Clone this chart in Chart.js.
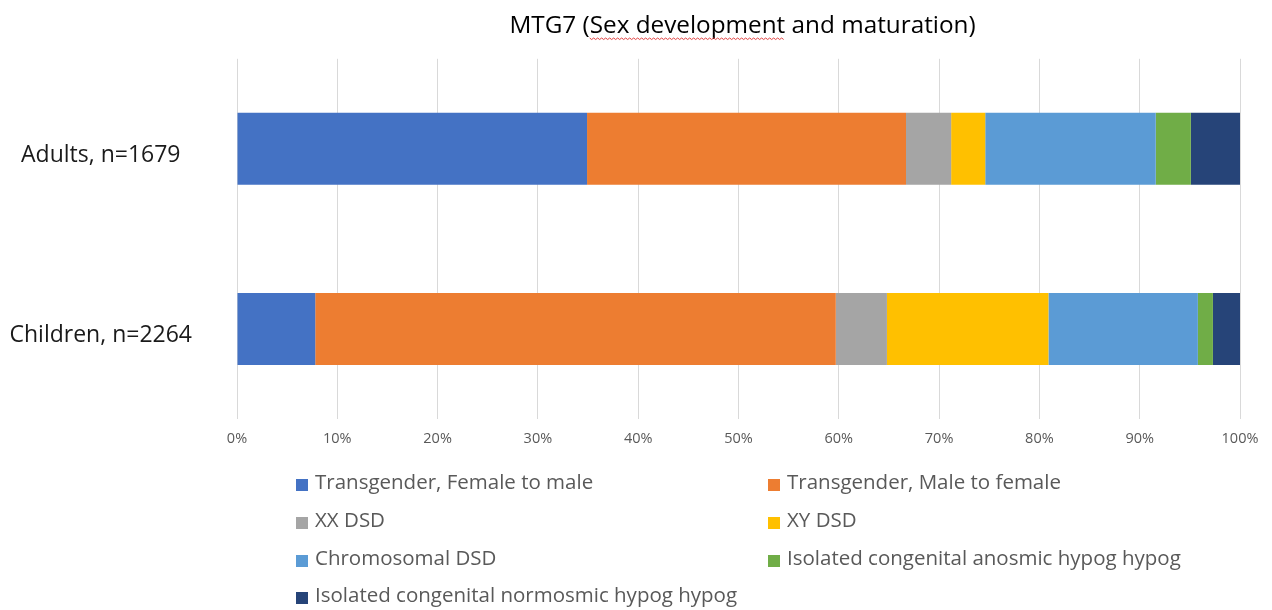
<!DOCTYPE html>
<html>
<head>
<meta charset="utf-8">
<script src="https://cdn.jsdelivr.net/npm/chart.js@4/dist/chart.umd.min.js"></script>
<style>
  html, body { margin: 0; padding: 0; background: #fff; }
  #wrap { position: relative; width: 1272px; height: 610px; }
</style>
</head>
<body>
<div id="wrap"><canvas id="c"></canvas></div>
<script>
// ---- data ----
const titleText = 'MTG7 (Sex development and maturation)';
const categories = ['Adults, n=1679', 'Children, n=2264'];
const seriesNames = [
  'Transgender, Female to male',
  'Transgender, Male to female',
  'XX DSD',
  'XY DSD',
  'Chromosomal DSD',
  'Isolated congenital anosmic hypog hypog',
  'Isolated congenital normosmic hypog hypog'
];
const transFemaleToMale = [34.9, 7.8];
const transMaleToFemale = [31.8, 51.9];
const xxDSD = [4.5, 5.1];
const xyDSD = [3.4, 16.1];
const chromosomalDSD = [17.0, 14.9];
const anosmicHypog = [3.5, 1.5];
const normosmicHypog = [4.9, 2.7];
const xTickValues = [0, 10, 20, 30, 40, 50, 60, 70, 80, 90, 100];

const seriesValues = [transFemaleToMale, transMaleToFemale, xxDSD, xyDSD, chromosomalDSD, anosmicHypog, normosmicHypog];
const colors = ['#4472C4', '#ED7D31', '#A5A5A5', '#FFC000', '#5B9BD5', '#70AD47', '#264478'];

const FONT = "'Open Sans', 'DejaVu Sans', sans-serif";

const titleAndLegend = {
  id: 'titleAndLegend',
  afterDraw(chart) {
    const ctx = chart.ctx;
    const area = chart.chartArea;
    ctx.save();
    // title
    ctx.font = `24.3px ${FONT}`;
    ctx.fillStyle = '#000000';
    ctx.textAlign = 'center';
    ctx.textBaseline = 'alphabetic';
    const cx = (area.left + area.right) / 2 + 4;
    ctx.fillText(titleText, cx, 33);
    // spell-check squiggle under "Sex development"
    const fullW = ctx.measureText(titleText).width;
    const startX = cx - fullW / 2 + ctx.measureText('MTG7 (').width;
    const endX = startX + ctx.measureText('Sex development').width;
    ctx.strokeStyle = '#e04040';
    ctx.lineWidth = 1;
    ctx.beginPath();
    for (let x = startX, i = 0; x <= endX; x += 2, i++) {
      const y = 38 + (i % 2 === 0 ? 0 : 1.5);
      if (i === 0) ctx.moveTo(x, y); else ctx.lineTo(x, y);
    }
    ctx.stroke();
    // legend (two columns)
    ctx.font = `20.5px ${FONT}`;
    ctx.textAlign = 'left';
    const colX = [296, 768];
    const rowBase = [489, 527, 565, 602];
    chart.data.datasets.forEach((ds, i) => {
      const col = i % 2, row = Math.floor(i / 2);
      const x = colX[col], yb = rowBase[row];
      ctx.fillStyle = ds.backgroundColor;
      ctx.fillRect(x, yb - 10, 12, 12);
      ctx.fillStyle = '#595959';
      ctx.fillText(ds.label, x + 19, yb);
    });
    ctx.restore();
  }
};

new Chart(document.getElementById('c'), {
  type: 'bar',
  data: {
    labels: categories,
    datasets: seriesNames.map((name, i) => ({
      label: name,
      data: seriesValues[i],
      backgroundColor: colors[i],
      borderWidth: 0,
      barPercentage: 1.0,
      categoryPercentage: 0.4
    }))
  },
  options: {
    indexAxis: 'y',
    responsive: true,
    maintainAspectRatio: false,
    animation: false,
    layout: { padding: { top: 58, right: 32, bottom: 151, left: 0 } },
    plugins: {
      legend: { display: false },
      title: { display: false },
      tooltip: { enabled: false }
    },
    scales: {
      x: {
        stacked: true,
        min: 0,
        max: 100,
        afterBuildTicks(scale) { scale.ticks = xTickValues.map(v => ({ value: v })); },
        afterFit(scale) { scale.height = 40; },
        grid: { color: '#d9d9d9', lineWidth: 1, drawTicks: false },
        border: { display: false },
        ticks: {
          padding: 11,
          color: '#595959',
          font: { family: FONT, size: 14.5 },
          callback: v => v + '%'
        }
      },
      y: {
        stacked: true,
        afterFit(scale) { scale.width = 237; },
        grid: { display: false, drawTicks: false },
        border: { display: false },
        ticks: {
          crossAlign: 'center',
          padding: 45,
          labelOffset: 7,
          color: '#1a1a1a',
          font: { family: FONT, size: 23 }
        }
      }
    }
  },
  plugins: [titleAndLegend]
});
</script>
</body>
</html>
